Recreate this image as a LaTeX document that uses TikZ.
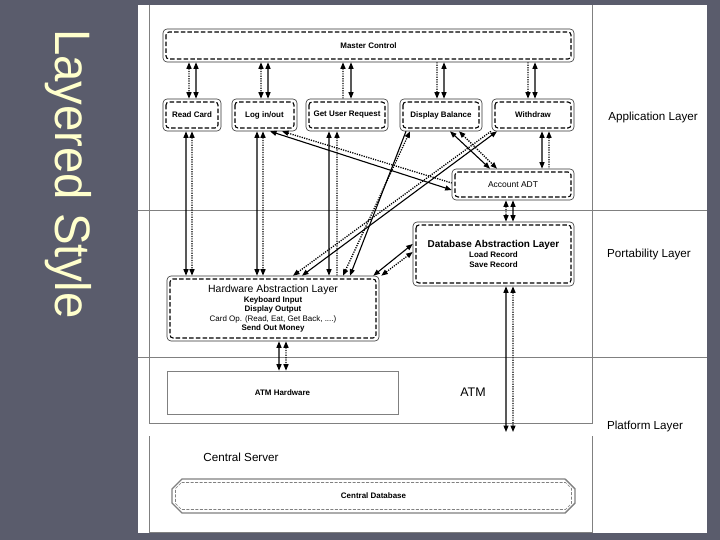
\documentclass[tikz,border=0pt]{standalone}
\usepackage{fontspec}
\setmainfont{Liberation Sans}
\usepackage{graphicx}
\usetikzlibrary{arrows.meta,shapes.misc}
\definecolor{bgslate}{RGB}{90,92,108}
\definecolor{titleyellow}{RGB}{255,255,204}
\definecolor{framegray}{RGB}{128,128,128}
\tikzset{
  >={Triangle[length=6.5bp,width=5bp]},
  solidln/.style={line width=1.1bp, black},
  dotln/.style={line width=1.3bp, black, dash pattern=on 1.2bp off 1.2bp},
  frameln/.style={draw=framegray, line width=0.7bp},
  dbox/.style={draw=black!80, line width=0.6bp, rounded corners=4bp, inner sep=0pt,
    fill=white, font=\fontsize{8}{9.5}\selectfont\bfseries, align=center,
    path picture={\draw[black, line width=1.1bp, dash pattern=on 4.5bp off 2.2bp, rounded corners=3bp]
      ([shift={(3bp,-3bp)}]path picture bounding box.north west) rectangle
      ([shift={(-3bp,3bp)}]path picture bounding box.south east);}},
  biglbl/.style={font=\fontsize{11.7}{14}\selectfont, inner sep=0pt},
  cdbbox/.style={chamfered rectangle, chamfered rectangle sep=7bp, draw=framegray, line width=1.3bp,
    inner sep=0pt, font=\fontsize{8}{9.5}\selectfont\bfseries,
    path picture={
      \path (path picture bounding box.north west) coordinate (pnw)
            (path picture bounding box.north east) coordinate (pne)
            (path picture bounding box.south east) coordinate (pse)
            (path picture bounding box.south west) coordinate (psw);
      \draw[framegray, line width=0.6bp, dash pattern=on 3bp off 1.5bp]
        ([shift={(9.5bp,-3.5bp)}]pnw) -- ([shift={(-9.5bp,-3.5bp)}]pne) --
        ([shift={(-3.5bp,-9.5bp)}]pne) -- ([shift={(-3.5bp,9.5bp)}]pse) --
        ([shift={(-9.5bp,3.5bp)}]pse) -- ([shift={(9.5bp,3.5bp)}]psw) --
        ([shift={(3.5bp,9.5bp)}]psw) -- ([shift={(3.5bp,-9.5bp)}]pnw) -- cycle;}},
}
\begin{document}
\begin{tikzpicture}[x=1bp,y=-1bp]
\useasboundingbox (0,0) rectangle (720,540);
\fill[bgslate] (0,0) rectangle (720,540);
\fill[white] (138,5) rectangle (707,533);
% frames and layer lines
\draw[frameln] (149,5) -- (149,423) -- (592,423) -- (592,5);
\draw[frameln] (149,436) -- (149,532) -- (592,532) -- (592,436);
\draw[frameln] (138,210) -- (707,210);
\draw[frameln] (138,357) -- (707,357);

% title
\node[rotate=-90, anchor=base west, inner sep=0pt, text=titleyellow,
      font=\fontsize{50}{60}\selectfont] (title) at (55,29) {\scalebox{0.95}[1]{Layered Style}};

% layer labels
\node[biglbl] (lapp) at (653,117) {Application Layer};
\node[biglbl] (lport) at (649,254) {Portability Layer};
\node[biglbl] (lplat) at (645,426) {Platform Layer};
\node[biglbl, font=\fontsize{12.5}{14}\selectfont] (latm) at (473,392) {ATM};
\node[biglbl] (lsrv) at (241,457) {Central Server};

% boxes
\node[dbox, minimum width=411bp, minimum height=33bp] (mc) at (368.5,45.5) {Master Control};
\node[dbox, minimum width=58bp, minimum height=32bp] (rc) at (192,115) {Read Card};
\node[dbox, minimum width=65bp, minimum height=32bp] (lio) at (264.5,115) {Log in/out};
\node[dbox, minimum width=82bp, minimum height=32bp] (gur) at (347,115) {Get User Request};
\node[dbox, minimum width=82bp, minimum height=32bp] (dbal) at (441,115) {Display Balance};
\node[dbox, minimum width=82bp, minimum height=32bp] (wd) at (533,115) {Withdraw};
\node[dbox, font=\fontsize{8.5}{10}\selectfont, minimum width=122bp, minimum height=31bp] (acc) at (513,184.5) {Account ADT};
\node[dbox, font=\fontsize{8}{10}\selectfont\bfseries, minimum width=161bp, minimum height=64bp] (dal) at (493.5,254)
  {{\fontsize{10}{12}\selectfont Database Abstraction Layer}\\[0.3bp] Load Record\\ Save Record};
\node[dbox, minimum width=212bp, minimum height=65bp] (hal) at (273,308.5)
  {{\fontsize{10.5}{12}\selectfont\mdseries Hardware Abstraction Layer}\\[0.6bp]
   Keyboard Input\\ Display Output\\ {\mdseries Card Op. (Read, Eat, Get Back, ....)}\\ Send Out Money};
\node[draw=framegray, line width=0.6bp, minimum width=231bp, minimum height=43bp,
      font=\fontsize{8}{9.5}\selectfont\bfseries] (atmhw) at (282.5,392.5) {ATM Hardware};
\node[cdbbox, minimum width=403bp, minimum height=34bp] (cdb) at (373.5,496) {Central Database};

% Master Control <-> application modules
\draw[dotln,<->] ([xshift=-179.5bp]mc.south) -- ([xshift=-3bp]rc.north);
\draw[solidln,<->] ([xshift=-172.5bp]mc.south) -- ([xshift=4bp]rc.north);
\draw[dotln,<->] ([xshift=-107.5bp]mc.south) -- ([xshift=-3.5bp]lio.north);
\draw[solidln,<->] ([xshift=-100.5bp]mc.south) -- ([xshift=3.5bp]lio.north);
\draw[dotln,<-] ([xshift=-25.5bp]mc.south) -- ([xshift=-4bp]gur.north);
\draw[solidln,<->] ([xshift=-17.5bp]mc.south) -- ([xshift=4bp]gur.north);
\draw[dotln,->] ([xshift=68.5bp]mc.south) -- ([xshift=-4bp]dbal.north);
\draw[solidln,<->] ([xshift=75.5bp]mc.south) -- ([xshift=3bp]dbal.north);
\draw[dotln,->] ([xshift=159.5bp]mc.south) -- ([xshift=-5bp]wd.north);
\draw[solidln,<->] ([xshift=166.5bp]mc.south) -- ([xshift=2bp]wd.north);

% modules <-> HAL
\draw[solidln,<->] ([xshift=-6bp]rc.south) -- ([xshift=-87bp]hal.north);
\draw[dotln,<->] (rc.south) -- ([xshift=-81bp]hal.north);
\draw[solidln,<->] ([xshift=-7.5bp]lio.south) -- ([xshift=-16bp]hal.north);
\draw[dotln,<->] ([xshift=-1.5bp]lio.south) -- ([xshift=-10bp]hal.north);
\draw[solidln,<->] ([xshift=-18bp]gur.south) -- ([xshift=56bp]hal.north);
\draw[dotln,<-] ([xshift=-10bp]gur.south) -- ([xshift=64bp]hal.north);

% diagonals
\draw[dotln,<->] ([xshift=70bp]hal.north) -- ([xshift=-31bp]dbal.south);
\draw[solidln,<-] ([xshift=77bp]hal.north) -- ([xshift=-35bp]dbal.south);
\draw[dotln,<-] ([xshift=20bp]hal.north) -- ([xshift=-42bp]wd.south);
\draw[solidln,<->] ([xshift=29bp]hal.north) -- ([xshift=-36bp]wd.south);
\draw[solidln,<->] ([xshift=5.5bp]lio.south) -- ([yshift=-5.5bp]acc.west);
\draw[dotln,<-] ([xshift=17.5bp]lio.south) -- ([yshift=1.5bp]acc.west);
\draw[solidln,<->] ([xshift=9bp]dbal.south) -- ([xshift=-23bp]acc.north);
\draw[dotln,<->] ([xshift=18bp]dbal.south) -- ([xshift=-16bp]acc.north);
\draw[solidln,<->] ([xshift=9bp]wd.south) -- ([xshift=29bp]acc.north);
\draw[dotln,<-] ([xshift=16bp]wd.south) -- ([xshift=36bp]acc.north);
\draw[dotln,<->] ([xshift=-7bp]acc.south) -- ([xshift=12.5bp]dal.north);
\draw[solidln,<->] (acc.south) -- ([xshift=19.5bp]dal.north);
\draw[solidln,<->] ([xshift=-6bp]hal.north east) -- ([yshift=10bp]dal.west);
\draw[dotln,<->] ([xshift=2bp]hal.north east) -- ([yshift=2bp]dal.west);

% HAL <-> ATM hardware
\draw[solidln,<->] ([xshift=6bp]hal.south) -- ([xshift=-3.5bp]atmhw.north);
\draw[dotln,<->] ([xshift=13bp]hal.south) -- ([xshift=3.5bp]atmhw.north);

% DAL <-> central server
\coordinate (srvA) at (506,432);
\coordinate (srvB) at (513,432);
\draw[solidln,<->] ([xshift=12.5bp]dal.south) -- (srvA);
\draw[dotln,<->] ([xshift=19.5bp]dal.south) -- (srvB);
\end{tikzpicture}
\end{document}
